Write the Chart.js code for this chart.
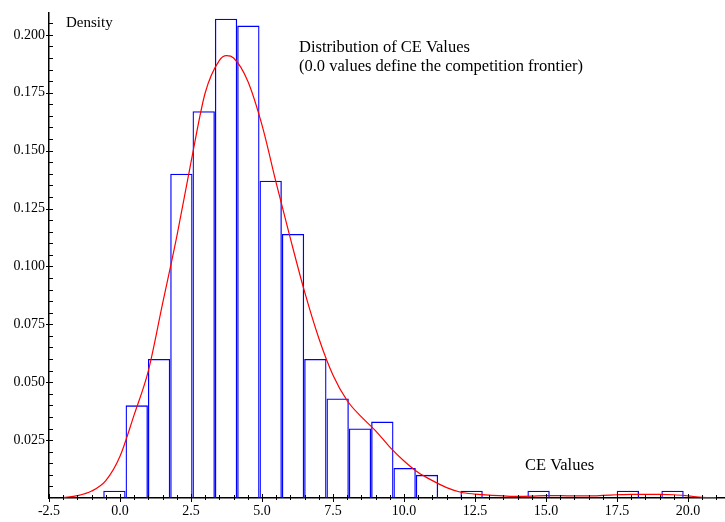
<!DOCTYPE html>
<html>
<head>
<meta charset="utf-8">
<script src="https://cdn.jsdelivr.net/npm/chart.js@4.4.0/dist/chart.umd.min.js"></script>
<style>
  html, body { margin: 0; padding: 0; background: #fff; }
  #wrap { width: 725px; height: 522px; }
</style>
</head>
<body>
<div id="wrap"><canvas id="histchart"></canvas></div>
<script>
const blue = "#0000ff";
const red = "#ff0000";
const serif = "'Liberation Serif', 'Times New Roman', serif";

// histogram bins (bin centres, width ~0.786) and their densities
const binCenters = [-0.197, 0.589, 1.375, 2.161, 2.947, 3.733, 4.519, 5.305, 6.091,
  6.877, 7.663, 8.449, 9.235, 10.021, 10.807, 11.593, 12.379, 13.165, 13.951,
  14.737, 15.523, 16.309, 17.095, 17.881, 18.667, 19.453];
const binDensity = [0.0031, 0.040, 0.060, 0.140, 0.167, 0.207, 0.204, 0.137, 0.114,
  0.060, 0.043, 0.030, 0.033, 0.013, 0.010, 0, 0.0031, 0, 0,
  0.0031, 0, 0, 0, 0.0031, 0, 0.0031];

// smoothed density curve
const curveX = [-2.0, -1.5, -1.0, -0.5, 0.0, 0.5, 1.0, 1.5, 2.0, 2.5, 3.0, 3.5, 3.75, 4.0,
  4.5, 5.0, 5.5, 6.0, 6.5, 7.0, 7.5, 8.0, 8.5, 9.0, 9.5, 10.0, 10.5, 11.0, 11.5,
  12.0, 12.5, 13.0, 13.5, 14.0, 14.5, 15.0, 15.5, 16.0, 16.5, 17.0, 17.5, 18.0,
  18.5, 19.0, 19.5, 20.0, 20.5, 21.0];
const curveY = [0.0002, 0.0010, 0.0030, 0.0075, 0.018, 0.036, 0.055, 0.084, 0.113, 0.145,
  0.175, 0.189, 0.191, 0.190, 0.180, 0.161, 0.136, 0.112, 0.089, 0.069, 0.053,
  0.042, 0.035, 0.029, 0.022, 0.016, 0.011, 0.0075, 0.0045, 0.0025, 0.0017,
  0.0012, 0.0009, 0.0007, 0.0008, 0.0010, 0.0010, 0.0009, 0.0009, 0.0011, 0.0014,
  0.0016, 0.0016, 0.0016, 0.0014, 0.0009, 0.0003, 0.0001];

const xTickLabels = [-2.5, 0, 2.5, 5, 7.5, 10, 12.5, 15, 17.5, 20];
const yTickLabels = [0.025, 0.05, 0.075, 0.1, 0.125, 0.15, 0.175, 0.2];

const histData = binCenters.map((x, i) => ({ x: x, y: binDensity[i] > 0 ? binDensity[i] : null }));
const curveData = curveX.map((x, i) => ({ x: x, y: curveY[i] }));

// small inward ticks + the text notes
const decorPlugin = {
  id: 'decor',
  afterDraw(chart) {
    const ctx = chart.ctx;
    const xs = chart.scales.x, ys = chart.scales.y;
    const area = chart.chartArea;
    ctx.save();
    ctx.strokeStyle = "#000";
    ctx.lineWidth = 1;
    ctx.beginPath();
    for (let i = 0; i <= 47; i++) {
      const v = -2.5 + i * 0.5;
      const px = Math.round(xs.getPixelForValue(v)) + 0.5;
      const major = i % 5 === 0;
      ctx.moveTo(px, area.bottom - (major ? 4 : 3));
      ctx.lineTo(px, area.bottom + (major ? 4 : 2));
    }
    for (let i = 1; i <= 41; i++) {
      const py = Math.round(ys.getPixelForValue(i * 0.005)) + 0.5;
      const major = i % 5 === 0;
      ctx.moveTo(area.left - (major ? 3 : 1), py);
      ctx.lineTo(area.left + 4, py);
    }
    ctx.stroke();

    ctx.fillStyle = "#000";
    ctx.textBaseline = "alphabetic";
    ctx.textAlign = "left";
    ctx.font = "15px " + serif;
    ctx.fillText("Density", 66, 27);
    ctx.font = "16.5px " + serif;
    ctx.fillText("Distribution of CE Values", 299, 52);
    ctx.fillText("(0.0 values define the competition frontier)", 299, 71);
    ctx.fillText("CE Values", 525, 470);
    ctx.restore();
  }
};

const histCtx = document.getElementById("histchart").getContext('2d');

const histChart = new Chart(histCtx, {
  type: 'bar',
  data: {
    datasets: [
      {
        type: 'line',
        data: curveData,
        borderColor: red,
        borderWidth: 1.2,
        pointRadius: 0,
        cubicInterpolationMode: 'monotone',
        fill: false,
        order: 0
      },
      {
        type: 'bar',
        data: histData,
        backgroundColor: "rgba(0,0,0,0)",
        borderColor: blue,
        borderWidth: 1.3,
        inflateAmount: 0,
        barPercentage: 1,
        categoryPercentage: 1,
        order: 1
      }
    ]
  },
  options: {
    responsive: true,
    maintainAspectRatio: false,
    animation: false,
    layout: { padding: { top: 4, right: 0, left: 0, bottom: 0 } },
    plugins: {
      legend: { display: false },
      tooltip: { enabled: false },
      title: { display: false }
    },
    scales: {
      x: {
        type: 'linear',
        min: -2.5,
        max: 21.3,
        offset: false,
        grid: { display: false, drawTicks: false },
        border: { display: true, color: "#000", width: 1.5 },
        afterFit: (scale) => { scale.height = 24; },
        afterBuildTicks: (scale) => { scale.ticks = xTickLabels.map(v => ({ value: v })); },
        ticks: {
          color: "#000",
          padding: 5,
          maxRotation: 0,
          autoSkip: false,
          font: { family: serif, size: 14 },
          callback: (v) => Number(v).toFixed(1)
        }
      },
      y: {
        type: 'linear',
        min: 0,
        max: 0.2097,
        grid: { display: false, drawTicks: false },
        border: { display: true, color: "#000", width: 1.5 },
        afterFit: (scale) => { scale.width = 49; },
        afterBuildTicks: (scale) => { scale.ticks = yTickLabels.map(v => ({ value: v })); },
        ticks: {
          color: "#000",
          padding: 4,
          autoSkip: false,
          font: { family: serif, size: 14 },
          callback: (v) => Number(v).toFixed(3)
        }
      }
    }
  },
  plugins: [decorPlugin]
});
</script>
</body>
</html>
